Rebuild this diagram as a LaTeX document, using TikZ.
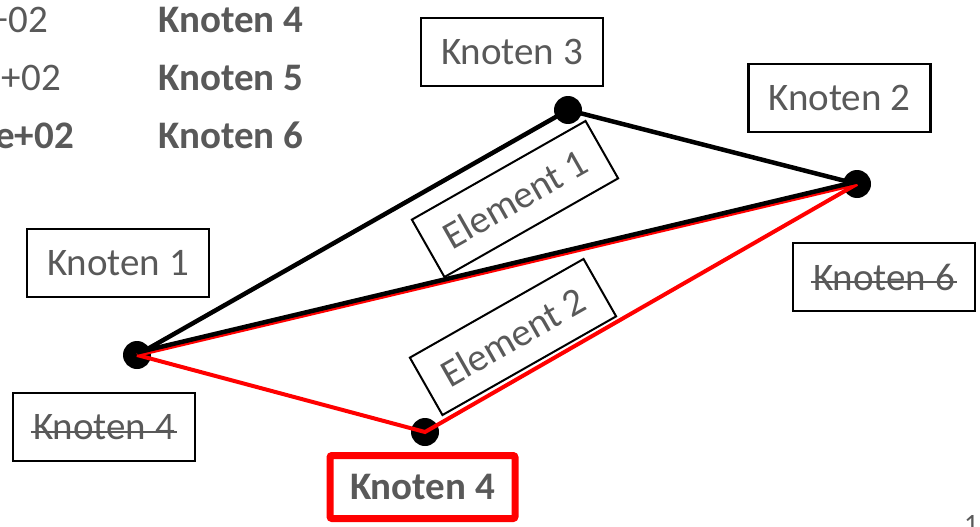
\documentclass[tikz,border=0pt]{standalone}
\usepackage{fontspec}
\setmainfont{Carlito}
\definecolor{txtgray}{RGB}{89,89,89}

\begin{document}
\begin{tikzpicture}[x=1pt,y=-1pt,
    box/.style={draw=black,line width=2.5pt,text=txtgray,font=\fontsize{39}{47}\selectfont,minimum height=68pt,inner xsep=20pt},
    elbox/.style={box,rotate=29.6,line width=2pt,minimum height=66pt},
    txt/.style={text=txtgray,font=\fontsize{39}{47}\selectfont,inner sep=0pt},
    strich/.style={line width=2.5pt,txtgray},
    kante/.style={line width=4.5pt,black},
    rkante/.style={line width=4pt,red}]

    \useasboundingbox (0,0) rectangle (980,527);

    % Knotenpunkte
    \coordinate (p1) at (137,355);
    \coordinate (p2) at (857,184);
    \coordinate (p3) at (568,110);
    \coordinate (p4) at (425,432);

    % Tabelle oben links
    \node[txt,anchor=base east] (w1) at (48,33) {+02};
    \node[txt,anchor=base east] (w2) at (61,90) {+02};
    \node[txt,anchor=base east,font=\fontsize{39}{47}\selectfont\bfseries] (w3) at (74,148) {e+02};
    \node[txt,anchor=base west,font=\fontsize{39}{47}\selectfont\bfseries] (t4) at (158,33) {Knoten 4};
    \node[txt,anchor=base west,font=\fontsize{39}{47}\selectfont\bfseries] (t5) at (158,90) {Knoten 5};
    \node[txt,anchor=base west,font=\fontsize{39}{47}\selectfont\bfseries] (t6) at (158,148) {Knoten 6};

    % Kanten
    \draw[kante] (p1) -- (p3) -- (p2);
    \foreach \p in {p1,p2,p3,p4}
        \fill[black] (\p) circle (14);
    \draw[rkante] (p1) -- (p2);
    \draw[rkante] (p1) -- (p4) -- (p2);
    \draw[kante,transform canvas={yshift=2.5pt}] (p1) -- (p2);

    % Beschriftungen
    \node[box] (k3) at (512,52) {Knoten 3};
    \node[box] (k2) at (839.5,98) {Knoten 2};
    \node[box] (k1) at (118,263) {Knoten 1};
    \node[box] (k6) at (884,277) {Knoten 6};
    \node[box] (k4a) at (104,427) {Knoten 4};
    \node[box,draw=red,line width=7pt,rounded corners=2pt,minimum height=63pt,
          font=\fontsize{39}{47}\selectfont\bfseries] (k4) at (422.5,487) {Knoten 4};

    % durchgestrichen
    \draw[strich] ([xshift=19pt,yshift=-5pt]k6.west) -- ([xshift=-19pt,yshift=-5pt]k6.east);
    \draw[strich] ([xshift=19pt,yshift=-5pt]k4a.west) -- ([xshift=-19pt,yshift=-5pt]k4a.east);

    \node[elbox] (e1) at (515,199) {Element 1};
    \node[elbox] (e2) at (513,337) {Element 2};

    \node[txt,anchor=base west,font=\fontsize{28}{34}\selectfont] (nr) at (964,533) {1};
\end{tikzpicture}
\end{document}
